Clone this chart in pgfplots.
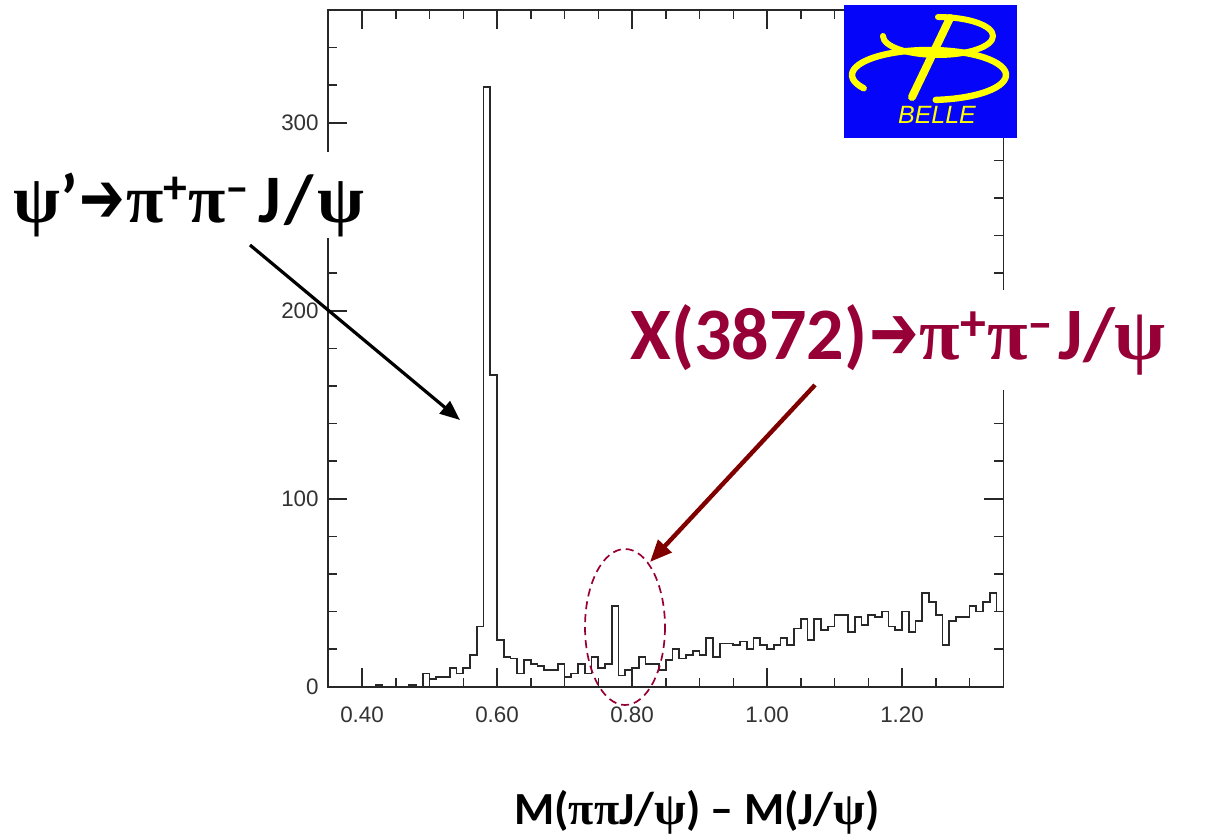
\documentclass[border=0pt]{standalone}
\usepackage{pgfplots}
\pgfplotsset{compat=1.18}
\usetikzlibrary{arrows.meta}
\usepackage{graphicx}
\usepackage{fontspec}
\setmainfont{Liberation Sans}
\newfontfamily\calibri{Carlito}
\newfontfamily\greek{Liberation Serif}
\newfontfamily\dejavu{DejaVu Sans}
\definecolor{xred}{RGB}{150,0,55}
\definecolor{arrowred}{RGB}{128,0,0}
\definecolor{belleblue}{RGB}{5,5,250}
\definecolor{belleyellow}{RGB}{255,255,0}
\definecolor{frame}{RGB}{40,40,40}

% Greek letters and the heavy arrow used in the decay labels
\newcommand{\gr}[1]{{\greek #1}}
\newcommand{\arr}{\hspace{1pt}\scalebox{0.8}[1.05]{\dejavu\mdseries ➔}\hspace{0.5pt}}

\begin{document}
\begin{tikzpicture}
\begin{axis}[
  at={(0,0)}, anchor=south west,
  scale only axis, width=337.5pt, height=338.35pt,
  xmin=0.35, xmax=1.35, ymin=0, ymax=360,
  xtick={0.4,0.6,0.8,1.0,1.2},
  minor xtick={0.45,0.5,0.55,0.65,0.7,0.75,0.85,0.9,0.95,1.05,1.1,1.15,1.25,1.3},
  ytick={0,100,200,300},
  minor ytick={20,40,60,80,120,140,160,180,220,240,260,280,320,340},
  tick align=inside,
  major tick length=9.5pt, minor tick length=4.5pt,
  axis line style={line width=0.8pt, frame},
  every tick/.style={frame, line width=0.8pt},
  /pgf/number format/assume math mode=true,
  tick label style={font=\fontsize{11.2}{13}\selectfont, text=black!80},
  xticklabel style={/pgf/number format/fixed, /pgf/number format/fixed zerofill,
                    /pgf/number format/precision=2, yshift=-6.6pt},
  yticklabel style={xshift=-1.3pt},
  clip=false,
]
% counts per 0.01 bin, left bin edges
\addplot[const plot, line width=0.9pt, frame] coordinates {
(0.35,0) (0.36,0) (0.37,0) (0.38,0) (0.39,0) (0.40,0) (0.41,0) (0.42,1)
(0.43,0) (0.44,0) (0.45,0) (0.46,0) (0.47,1) (0.48,0) (0.49,7) (0.50,4)
(0.51,5) (0.52,5) (0.53,10) (0.54,7) (0.55,10) (0.56,17) (0.57,32) (0.58,319)
(0.59,166) (0.60,25) (0.61,16) (0.62,15) (0.63,7) (0.64,14) (0.65,12) (0.66,11)
(0.67,9) (0.68,9) (0.69,12) (0.70,5) (0.71,7) (0.72,12) (0.73,7) (0.74,16)
(0.75,10) (0.76,12) (0.77,43) (0.78,6) (0.79,9) (0.80,10) (0.81,16) (0.82,12)
(0.83,12) (0.84,9) (0.85,14) (0.86,20) (0.87,15) (0.88,17) (0.89,19) (0.90,17)
(0.91,26) (0.92,16) (0.93,23) (0.94,23) (0.95,22) (0.96,24) (0.97,20) (0.98,26)
(0.99,22) (1.00,20) (1.01,22) (1.02,26) (1.03,22) (1.04,31) (1.05,36) (1.06,25)
(1.07,36) (1.08,30) (1.09,32) (1.10,38) (1.11,38) (1.12,29) (1.13,37) (1.14,33)
(1.15,38) (1.16,37) (1.17,40) (1.18,32) (1.19,30) (1.20,40) (1.21,29) (1.22,35)
(1.23,50) (1.24,45) (1.25,38) (1.26,22) (1.27,35) (1.28,37) (1.29,37) (1.30,43)
(1.31,40) (1.32,45) (1.33,50) (1.34,40) (1.35,40)
};
\end{axis}

% annotation layer in page units (1 unit = 0.5pt, y downwards)
\begin{scope}[x=0.5pt, y=-0.5pt, xshift=-164.15pt, yshift=343.35pt]
  % BELLE logo
  \fill[belleblue] (844,5) rectangle (1017,138);
  \begin{scope}[belleyellow, line cap=round]
    \draw[line width=3pt] (938,36) ++(180:55 and 19) arc[start angle=180, end angle=-90, x radius=55, y radius=19];
    \draw[line width=3.2pt] (929,75) ++(148:77 and 25) arc[start angle=148, end angle=445, x radius=77, y radius=25];
    \draw[line width=4pt] (950,18) -- (912,97);
  \end{scope}
  \node[belleyellow, font=\fontsize{12.5}{14}\selectfont\itshape, inner sep=0] at (937,115) {BELLE};

  % text boxes are opaque, hiding the frame behind them
  \fill[white] (8,152) rectangle (368,238);
  \fill[white] (625,290) rectangle (1205,390);

  % labels
  \node[anchor=base west, inner sep=0, font=\fontsize{34}{40}\selectfont\calibri\bfseries]
    at (13,222) {\gr{ψ}’\arr\gr{π}\textsuperscript{+}\gr{π}\textsuperscript{–}\hspace{4pt}J\hspace{2pt}/\hspace{2pt}\gr{ψ}};
  \node[anchor=base west, inner sep=0, text=xred, font=\fontsize{37}{40}\selectfont\calibri\bfseries]
    at (630,359) {X(3872)\arr\gr{π}\textsuperscript{+}\gr{π}\textsuperscript{–}\hspace{2pt}J/\gr{ψ}};
  \node[anchor=base, inner sep=0, font=\fontsize{23}{28}\selectfont\calibri\bfseries]
    at (697,824) {M(\gr{ππ}J/\gr{ψ}) – M(J/\gr{ψ})};

  % arrows and the highlighted region
  \draw[line width=1.6pt, -{Triangle[length=10pt,width=8pt]}] (250,245) -- (460,420);
  \draw[arrowred, line width=2.2pt, -{Triangle[length=11pt,width=9pt]}] (815,385) -- (650,562);
  \draw[xred, line width=0.85pt, dash pattern=on 4pt off 2.5pt] (625,627) ellipse [x radius=40, y radius=78];

  \pgfresetboundingbox
  \path[use as bounding box] (0,0) rectangle (1215,837);
\end{scope}
\end{tikzpicture}
\end{document}
